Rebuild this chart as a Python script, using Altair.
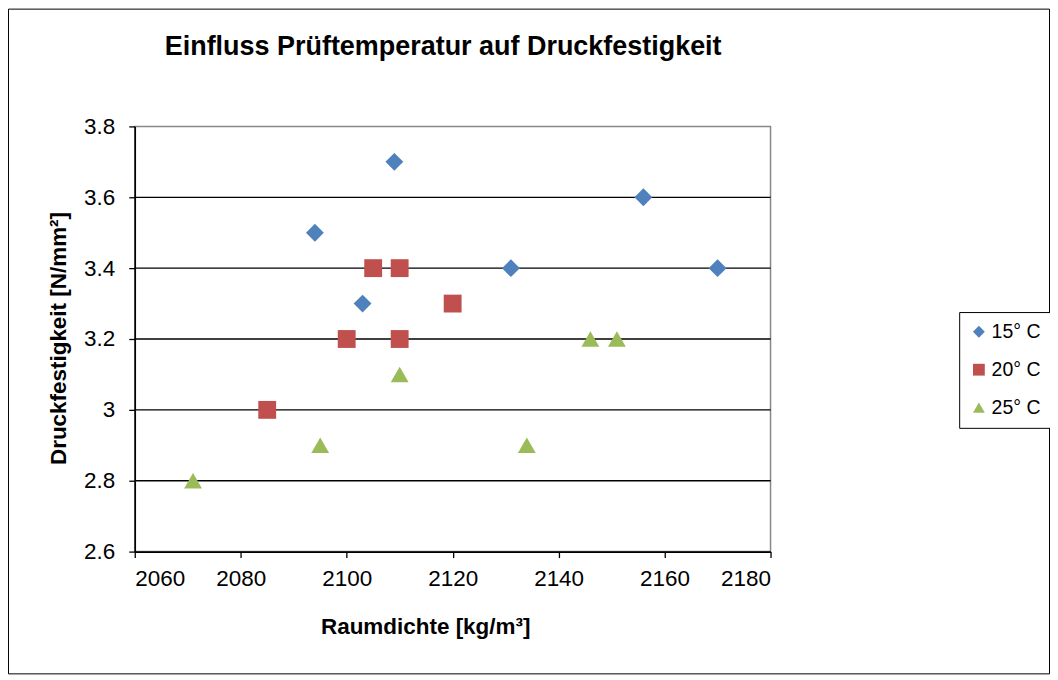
import altair as alt
import pandas as pd

series = ["15° C", "20° C", "25° C"]
x15 = [2094, 2109, 2103, 2131, 2156, 2170]
y15 = [3.5, 3.7, 3.3, 3.4, 3.6, 3.4]
x20 = [2085, 2100, 2105, 2110, 2110, 2120]
y20 = [3.0, 3.2, 3.4, 3.4, 3.2, 3.3]
x25 = [2071, 2095, 2110, 2134, 2146, 2151]
y25 = [2.8, 2.9, 3.1, 2.9, 3.2, 3.2]
x_ticks = [2060, 2080, 2100, 2120, 2140, 2160, 2180]
y_ticks = [2.6, 2.8, 3.0, 3.2, 3.4, 3.6, 3.8]
grid_vals = [2.8, 3.0, 3.2, 3.4, 3.6]
colors = ["#4F81BD", "#C0504D", "#9BBB59"]
shapes = ["diamond", "square", "triangle-up"]

rows = []
for name, xs, ys in zip(series, [x15, x20, x25], [y15, y20, y25]):
    for xv, yv in zip(xs, ys):
        rows.append({"Serie": name, "x": xv, "y": yv})
df = pd.DataFrame(rows)
grid_df = pd.DataFrame({"y": grid_vals})

FONT = "Liberation Sans"
W, H = 637, 426

xscale = alt.Scale(domain=[2060, 2180], nice=False, zero=False)
yscale = alt.Scale(domain=[2.6, 3.8], nice=False, zero=False)

x_axis = alt.Axis(values=x_ticks, title="Raumdichte [kg/m³]", format="d", grid=False,
                  titleX=291, titleY=75, titleBaseline="middle", titleAlign="center",
                  labelPadding=10, tickSize=6)
y_axis = alt.Axis(values=y_ticks, title="Druckfestigkeit [N/mm²]", format="~g", grid=False,
                  titleX=-76, titleY=212, titleAngle=-90, titleBaseline="middle",
                  titleAlign="center", labelPadding=14, tickSize=6)

frame = alt.Chart(pd.DataFrame({"a": [0]})).mark_rect(
    fill=None, stroke="#000000", strokeWidth=1, clip=False
).encode(
    x=alt.value(-126.5), x2=alt.value(916.5),
    y=alt.value(-117.5), y2=alt.value(548.5),
)

grid = alt.Chart(grid_df).mark_rule(color="#000000", strokeWidth=1.3).encode(
    y=alt.Y("y:Q", scale=yscale, axis=y_axis),
    x=alt.value(0), x2=alt.value(W),
)

points = alt.Chart(df).mark_point(filled=True, opacity=1, strokeWidth=0, size=320).encode(
    x=alt.X("x:Q", scale=xscale, axis=x_axis),
    y=alt.Y("y:Q", scale=yscale, axis=y_axis),
    color=alt.Color("Serie:N", scale=alt.Scale(domain=series, range=colors),
                    legend=alt.Legend(title=None, orient="none", legendX=826, legendY=186,
                                      strokeColor="#000000", fillColor="#ffffff",
                                      padding=10, rowPadding=17, symbolSize=140,
                                      labelFontSize=19.5, labelFont=FONT, labelColor="#000000",
                                      symbolStrokeWidth=0, labelOffset=3)),
    shape=alt.Shape("Serie:N", scale=alt.Scale(domain=series, range=shapes)),
)

chart = alt.layer(frame, grid, points).properties(
    width=W, height=H,
    autosize=alt.AutoSizeParams(type="none"),
    padding={"left": 127, "top": 118, "right": 280, "bottom": 123},
    title=alt.Title("Einfluss Prüftemperatur auf Druckfestigkeit", font=FONT, fontSize=27,
                    fontWeight="bold", color="#000000", anchor="middle", frame="group",
                    dx=-9.5, offset=-52),
).configure(
    background="#ffffff"
).configure_view(
    stroke="#888888", strokeWidth=1.5,
).configure_axis(
    domainColor="#000000", domainWidth=1.6, tickColor="#000000", tickWidth=1.3,
    labelFont=FONT, labelFontSize=22.5, labelColor="#000000",
    titleFont=FONT, titleFontSize=22.5, titleFontWeight="bold", titleColor="#000000",
)

chart.save("out.html", embed_options={"renderer": "svg", "actions": False})
